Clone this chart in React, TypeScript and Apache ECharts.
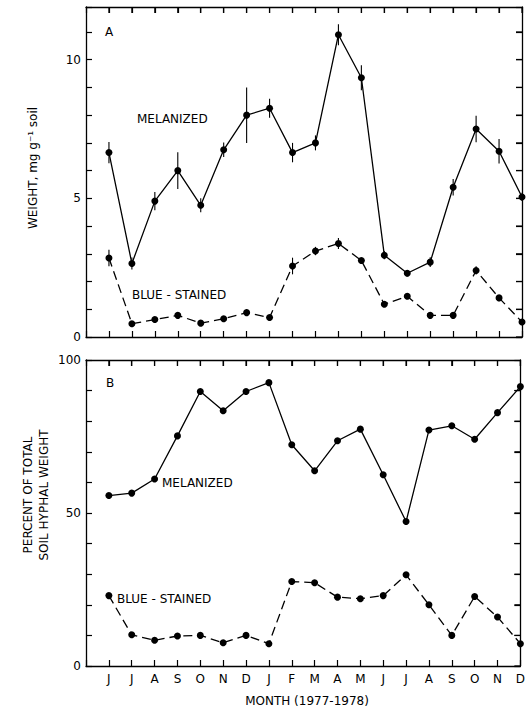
import React, { useEffect, useRef } from "react";
import * as echarts from "echarts";

const months = ["J", "J", "A", "S", "O", "N", "D", "J", "F", "M", "A", "M", "J", "J", "A", "S", "O", "N", "D"];

// Panel A: weight, mg g^-1 soil
const melanizedWeight = [6.65, 2.65, 4.9, 6.0, 4.75, 6.75, 8.0, 8.25, 6.65, 7.0, 10.9, 9.35, 2.95, 2.3, 2.7, 5.4, 7.5, 6.7, 5.05];
const melanizedWeightErr = [0.38, 0.22, 0.33, 0.66, 0.25, 0.26, 1.0, 0.34, 0.35, 0.27, 0.38, 0.45, 0.15, 0.12, 0.18, 0.3, 0.48, 0.44, 0.15];
const blueWeight = [2.85, 0.48, 0.63, 0.78, 0.5, 0.66, 0.88, 0.7, 2.56, 3.1, 3.37, 2.76, 1.18, 1.47, 0.78, 0.78, 2.4, 1.41, 0.54];
const blueWeightErr = [0.3, 0, 0, 0, 0, 0, 0.12, 0, 0.3, 0.15, 0.2, 0, 0, 0, 0, 0, 0.15, 0, 0];

// Panel B: percent of total soil hyphal weight
const melanizedPct = [55.7, 56.5, 61.1, 75.2, 89.7, 83.4, 89.7, 92.6, 72.3, 63.8, 73.6, 77.4, 62.5, 47.2, 77.1, 78.5, 74.1, 82.8, 91.3];
const bluePct = [23.0, 10.2, 8.4, 9.8, 10.0, 7.6, 10.0, 7.3, 27.6, 27.2, 22.5, 22.0, 23.0, 29.8, 20.0, 10.0, 22.7, 16.0, 7.3];

const weightTickLabels = [0, 5, 10];
const pctTickLabels = [0, 50, 100];

const FONT = "DejaVu Sans";
const X_MAX = months.length; // x positions are 1..19, axis spans 0..19
const A_MAX = 11.9;
const B_MAX = 100;

export default function App() {
  const ref = useRef<HTMLDivElement>(null);
  useEffect(() => {
    if (!ref.current) return;
    const chart = echarts.init(ref.current, null, { renderer: "svg" });
    const axisLine = () => ({ show: true, onZero: false, lineStyle: { color: "#000", width: 1.3 } });
    const tick = () => ({ show: true, inside: true, length: 6, lineStyle: { color: "#000", width: 1.2 } });

    const xBase = (gridIndex: number, position: string, showLabel: boolean) => ({
      type: "value",
      gridIndex,
      position,
      min: 0,
      max: X_MAX,
      interval: 1,
      axisLine: axisLine(),
      axisTick: tick(),
      splitLine: { show: false },
      axisLabel: {
        show: showLabel,
        margin: 7,
        color: "#000",
        fontFamily: FONT,
        fontSize: 12,
        formatter: (v: number) => (v >= 1 && v <= months.length ? months[v - 1] : ""),
      },
    });

    const yBase = (gridIndex: number, position: string, max: number, interval: number) => ({
      type: "value",
      gridIndex,
      position,
      min: 0,
      max,
      interval,
      axisLine: axisLine(),
      axisTick: tick(),
      splitLine: { show: false },
      axisLabel: { show: false },
    });

    const errData = (vals: number[], errs: number[]) =>
      vals.map((v, i) => [i + 1, v - errs[i], v + errs[i]]).filter((d, i) => errs[i] > 0);

    const errSeries = (data: number[][]) => ({
      type: "custom",
      xAxisIndex: 0,
      yAxisIndex: 0,
      data,
      encode: { x: 0, y: [1, 2] },
      renderItem: (params: any, api: any) => {
        const x = api.value(0);
        const lo = api.coord([x, api.value(1)]);
        const hi = api.coord([x, api.value(2)]);
        return {
          type: "line",
          shape: { x1: lo[0], y1: lo[1], x2: hi[0], y2: hi[1] },
          style: { stroke: "#000", lineWidth: 1.1 },
        };
      },
      z: 1,
    });

    // ticks on the top and right frame edges, placed through the axes' scales
    const topTicks = (xi: number, yi: number, ymax: number) => ({
      type: "custom",
      xAxisIndex: xi,
      yAxisIndex: yi,
      clip: false,
      silent: true,
      data: months.map((m, i) => [i + 1, ymax]),
      encode: { x: 0, y: 1 },
      renderItem: (params: any, api: any) => {
        const p = api.coord([api.value(0), api.value(1)]);
        return { type: "line", shape: { x1: p[0], y1: p[1], x2: p[0], y2: p[1] + 6 }, style: { stroke: "#000", lineWidth: 1.2 } };
      },
    });
    const rightTicks = (xi: number, yi: number, ticks: number[]) => ({
      type: "custom",
      xAxisIndex: xi,
      yAxisIndex: yi,
      clip: false,
      silent: true,
      data: ticks.map((v) => [X_MAX, v]),
      encode: { x: 0, y: 1 },
      renderItem: (params: any, api: any) => {
        const p = api.coord([api.value(0), api.value(1)]);
        return { type: "line", shape: { x1: p[0] - 6, y1: p[1], x2: p[0], y2: p[1] }, style: { stroke: "#000", lineWidth: 1.2 } };
      },
    });
    // y tick labels, positioned through the y axis scale, just left of the frame
    const yLabels = (xi: number, yi: number, labels: number[]) => ({
      type: "custom",
      xAxisIndex: xi,
      yAxisIndex: yi,
      clip: false,
      silent: true,
      data: labels.map((v) => [0, v]),
      encode: { x: 0, y: 1 },
      renderItem: (params: any, api: any) => {
        const p = api.coord([api.value(0), api.value(1)]);
        return {
          type: "text",
          x: p[0] - 5,
          y: p[1],
          style: { text: String(api.value(1)), fill: "#000", font: `12px '${FONT}'`, align: "right", verticalAlign: "middle" },
        };
      },
    });
    const weightTicks = Array.from({ length: 12 }, (_, k) => k);
    const pctTicks = Array.from({ length: 10 }, (_, k) => k * 10);

    const lineSeries = (vals: number[], xi: number, yi: number, dashed: boolean) => ({
      type: "line",
      xAxisIndex: xi,
      yAxisIndex: yi,
      data: vals.map((v, i) => [i + 1, v]),
      symbol: "circle",
      symbolSize: 7,
      showSymbol: true,
      itemStyle: { color: "#000" },
      lineStyle: { color: "#000", width: 1.3, type: dashed ? [9, 5] : "solid" },
      z: 3,
    });

    const txt = (text: string, x: number, y: number, extra: any = {}) => ({
      type: "text",
      x,
      y,
      style: { text, fill: "#000", font: `12px '${FONT}'`, align: "left", verticalAlign: "middle", ...extra },
    });

    chart.setOption({
      animation: false,
      backgroundColor: "#fff",
      grid: [
        { left: 86, top: 7, width: 436, height: 330 },
        { left: 86, top: 360, width: 436, height: 306 },
      ],
      xAxis: [
        xBase(0, "bottom", false),
        xBase(0, "top", false),
        xBase(1, "bottom", true),
        xBase(1, "top", false),
      ],
      yAxis: [
        yBase(0, "left", A_MAX, 1),
        yBase(0, "right", A_MAX, 1),
        yBase(1, "left", B_MAX, 10),
        yBase(1, "right", B_MAX, 10),
      ],
      series: [
        topTicks(0, 0, A_MAX),
        rightTicks(0, 0, weightTicks),
        topTicks(2, 2, B_MAX),
        rightTicks(2, 2, pctTicks),
        yLabels(0, 0, weightTickLabels),
        yLabels(2, 2, pctTickLabels),
        errSeries(errData(melanizedWeight, melanizedWeightErr)),
        errSeries(errData(blueWeight, blueWeightErr)),
        lineSeries(melanizedWeight, 0, 0, false),
        lineSeries(blueWeight, 0, 0, true),
        lineSeries(melanizedPct, 2, 2, false),
        lineSeries(bluePct, 2, 2, true),
      ],
      graphic: [
        txt("A", 105, 32),
        txt("MELANIZED", 137, 119),
        txt("BLUE - STAINED", 132, 295),
        txt("B", 106, 383),
        txt("MELANIZED", 162, 483),
        txt("BLUE - STAINED", 117, 599),
        txt("MONTH (1977-1978)", 307, 701, { align: "center" }),
        {
          type: "text",
          x: 33,
          y: 168,
          rotation: Math.PI / 2,
          style: { text: "WEIGHT, mg g⁻¹ soil", fill: "#000", font: `12px '${FONT}'`, align: "center", verticalAlign: "middle" },
        },
        {
          type: "text",
          x: 28,
          y: 495,
          rotation: Math.PI / 2,
          style: { text: "PERCENT OF TOTAL", fill: "#000", font: `12px '${FONT}'`, align: "center", verticalAlign: "middle" },
        },
        {
          type: "text",
          x: 44,
          y: 495,
          rotation: Math.PI / 2,
          style: { text: "SOIL HYPHAL WEIGHT", fill: "#000", font: `12px '${FONT}'`, align: "center", verticalAlign: "middle" },
        },
      ],
    });
    return () => chart.dispose();
  }, []);
  return <div ref={ref} style={{ position: "fixed", left: 0, top: 0, width: 528, height: 719 }} />;
}
